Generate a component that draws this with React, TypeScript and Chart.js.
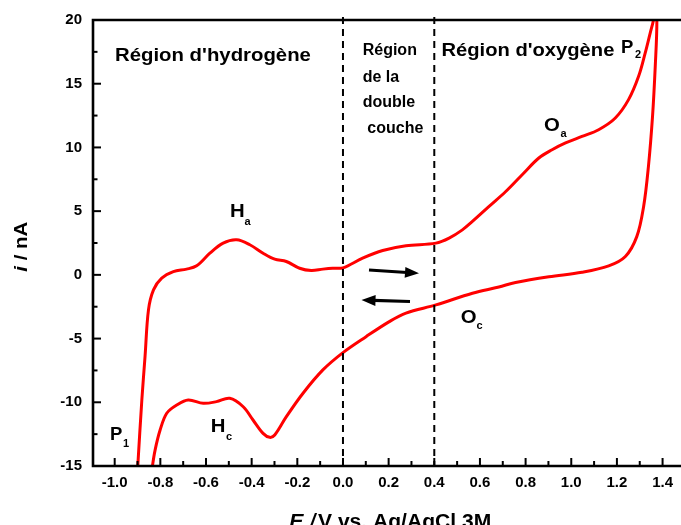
import React, { useEffect, useRef } from 'react';
import { Chart, registerables } from 'chart.js';

Chart.register(...registerables);

// Anodic sweep (from P1 upward, towards P2)
const anodicE = [
  -0.902, -0.899, -0.881, -0.867, -0.852, -0.830, -0.794, -0.743, -0.685, -0.641,
  -0.583, -0.525, -0.466, -0.408, -0.350, -0.299, -0.248, -0.190, -0.139, -0.088,
  -0.045, 0.0, 0.086, 0.174, 0.276, 0.407, 0.465, 0.523, 0.567, 0.640,
  0.713, 0.785, 0.858, 0.916, 0.975, 1.047, 1.120, 1.193, 1.251, 1.295,
  1.324, 1.346, 1.360, 1.368,
];
const anodicI = [
  -16.0, -15.05, -9.8, -6.4, -2.75, -1.18, -0.26, 0.26, 0.45, 0.71,
  1.7, 2.49, 2.75, 2.36, 1.7, 1.23, 1.05, 0.52, 0.34, 0.45,
  0.52, 0.55, 1.31, 1.91, 2.28, 2.49, 2.88, 3.53, 4.19, 5.37,
  6.54, 7.86, 9.17, 9.82, 10.35, 10.86, 11.39, 12.31, 13.75, 15.58,
  17.42, 18.99, 19.98, 21.0,
];
// Cathodic sweep (from P2 back down towards P1)
const cathodicE = [
  1.375, 1.368, 1.356, 1.338, 1.317, 1.287, 1.237, 1.164, 1.047, 0.902,
  0.756, 0.683, 0.567, 0.407, 0.276, 0.203, 0.101, 0.0, -0.088, -0.175,
  -0.248, -0.299, -0.321, -0.350, -0.394, -0.437, -0.496, -0.554, -0.612, -0.678,
  -0.728, -0.772, -0.801, -0.823, -0.835, -0.840,
];
const cathodicI = [
  19.9, 16.4, 12.43, 8.5, 5.37, 3.0, 1.44, 0.7, 0.2, -0.15,
  -0.6, -0.95, -1.44, -2.36, -3.0, -3.67, -4.85, -6.1, -7.46, -9.29,
  -11.13, -12.57, -12.75, -12.44, -11.39, -10.35, -9.69, -9.95, -10.08, -9.82,
  -10.21, -10.86, -12.18, -13.75, -15.06, -16.0,
];

const xTickValues = [-1.0, -0.8, -0.6, -0.4, -0.2, 0.0, 0.2, 0.4, 0.6, 0.8, 1.0, 1.2, 1.4];
const yTickValues = [-15, -10, -5, 0, 5, 10, 15, 20];
const dividerE = [0.0, 0.4];

const FONT = "'Liberation Sans', Arial, Helvetica, sans-serif";

function drawText(ctx: any, s: string, x: number, y: number, size: number, sx = 1, italic = false) {
  ctx.save();
  ctx.font = `${italic ? 'italic ' : ''}bold ${size}px ${FONT}`;
  ctx.textAlign = 'left';
  ctx.textBaseline = 'alphabetic';
  ctx.fillStyle = '#000';
  ctx.translate(x, y);
  ctx.scale(sx, 1);
  ctx.fillText(s, 0, 0);
  const w = ctx.measureText(s).width * sx;
  ctx.restore();
  return w;
}

function drawArrow(ctx: any, x0: number, y0: number, x1: number, y1: number) {
  const ang = Math.atan2(y1 - y0, x1 - x0);
  const hl = 14;
  const hw = 5.5;
  const bx = x1 - hl * Math.cos(ang);
  const by = y1 - hl * Math.sin(ang);
  ctx.save();
  ctx.strokeStyle = '#000';
  ctx.fillStyle = '#000';
  ctx.lineWidth = 3.2;
  ctx.beginPath();
  ctx.moveTo(x0, y0);
  ctx.lineTo(bx + 2 * Math.cos(ang), by + 2 * Math.sin(ang));
  ctx.stroke();
  ctx.beginPath();
  ctx.moveTo(x1, y1);
  ctx.lineTo(bx + hw * Math.sin(ang), by - hw * Math.cos(ang));
  ctx.lineTo(bx - hw * Math.sin(ang), by + hw * Math.cos(ang));
  ctx.closePath();
  ctx.fill();
  ctx.restore();
}

const decor = {
  id: 'decor',
  afterDatasetsDraw(chart: any) {
    const { ctx, chartArea: a, scales } = chart;
    const xs = scales.x;
    const ys = scales.y;
    ctx.save();
    ctx.strokeStyle = '#000';

    // dashed region dividers
    ctx.lineWidth = 2;
    ctx.setLineDash([7, 5]);
    dividerE.forEach((v) => {
      const px = xs.getPixelForValue(v);
      ctx.beginPath();
      ctx.moveTo(px, a.top - 3);
      ctx.lineTo(px, a.bottom);
      ctx.stroke();
    });
    ctx.setLineDash([]);

    // axis frame (left, top, bottom)
    ctx.lineWidth = 2.6;
    ctx.lineCap = 'square';
    ctx.beginPath();
    ctx.moveTo(a.right + 3, a.top);
    ctx.lineTo(a.left, a.top);
    ctx.lineTo(a.left, a.bottom);
    ctx.lineTo(a.right + 3, a.bottom);
    ctx.stroke();

    // ticks (inward)
    ctx.lineCap = 'butt';
    ctx.lineWidth = 2;
    yTickValues.forEach((v, i) => {
      const py = ys.getPixelForValue(v);
      ctx.beginPath();
      ctx.moveTo(a.left, py);
      ctx.lineTo(a.left + 8, py);
      ctx.stroke();
      if (i < yTickValues.length - 1) {
        const pm = ys.getPixelForValue((v + yTickValues[i + 1]) / 2);
        ctx.beginPath();
        ctx.moveTo(a.left, pm);
        ctx.lineTo(a.left + 4.5, pm);
        ctx.stroke();
      }
    });
    xTickValues.forEach((v, i) => {
      const px = xs.getPixelForValue(v);
      ctx.beginPath();
      ctx.moveTo(px, a.bottom);
      ctx.lineTo(px, a.bottom - 8);
      ctx.stroke();
      if (i < xTickValues.length - 1) {
        const pm = xs.getPixelForValue((v + xTickValues[i + 1]) / 2);
        ctx.beginPath();
        ctx.moveTo(pm, a.bottom);
        ctx.lineTo(pm, a.bottom - 5);
        ctx.stroke();
      }
    });

    // region labels
    drawText(ctx, "Région d'hydrogène", 115, 61, 18.5, 1.1);
    drawText(ctx, "Région d'oxygène", 441.5, 56, 18.5, 1.09);
    drawText(ctx, 'Région', 362.7, 55.3, 16);
    drawText(ctx, 'de la', 362.7, 81.7, 16);
    drawText(ctx, 'double', 362.7, 107.3, 16);
    drawText(ctx, 'couche', 367.3, 133.3, 16);

    // peak labels with subscripts
    drawText(ctx, 'P', 621, 52.7, 18.5);
    drawText(ctx, '2', 635, 57.8, 11);
    drawText(ctx, 'H', 230, 216.7, 18.5, 1.1);
    drawText(ctx, 'a', 244.5, 225, 11);
    drawText(ctx, 'O', 544, 130.7, 18.5, 1.1);
    drawText(ctx, 'a', 560.5, 137.3, 11);
    drawText(ctx, 'O', 460.7, 322.7, 18.5, 1.1);
    drawText(ctx, 'c', 476.5, 329.3, 11);
    drawText(ctx, 'H', 210.7, 432.3, 18.5, 1.1);
    drawText(ctx, 'c', 226, 440, 11);
    drawText(ctx, 'P', 110, 440, 18.5);
    drawText(ctx, '1', 123, 447.3, 11);

    // sweep direction arrows
    drawArrow(ctx, 369, 270, 419, 273.3);
    drawArrow(ctx, 410, 301.5, 361.5, 300);

    // x axis title
    drawText(ctx, 'E', 289.3, 528, 19.5, 1.09, true);
    drawText(ctx, '/', 310, 528, 19.5, 1.0, true);
    drawText(ctx, 'V vs. Ag/AgCl 3M', 318, 528, 19.5, 1.08);

    // y axis title (rotated)
    ctx.save();
    ctx.translate(26.5, 271.7);
    ctx.rotate(-Math.PI / 2);
    const wi = drawText(ctx, 'i', 0, 0, 19, 1.075, true);
    drawText(ctx, ' / nA', wi, 0, 19, 1.075);
    ctx.restore();

    ctx.restore();
  },
};

export default function App() {
  const ref = useRef<HTMLCanvasElement | null>(null);

  useEffect(() => {
    if (!ref.current) return;
    const loop = [
      ...anodicE.map((e, i) => ({ x: e, y: anodicI[i] })),
      ...cathodicE.map((e, i) => ({ x: e, y: cathodicI[i] })),
    ];
    const chart = new Chart(ref.current, {
      type: 'scatter',
      data: {
        datasets: [
          {
            data: loop,
            showLine: true,
            borderColor: '#ff0000',
            backgroundColor: '#ff0000',
            borderWidth: 3,
            pointRadius: 0,
            tension: 0.35,
            fill: false,
          },
        ],
      },
      options: {
        animation: false,
        responsive: false,
        events: [],
        layout: { padding: { left: 0, right: 0, top: 20, bottom: 0 } },
        plugins: { legend: { display: false }, tooltip: { enabled: false }, title: { display: false } },
        scales: {
          x: {
            type: 'linear',
            min: -1.095,
            max: 1.473,
            grid: { display: false, drawTicks: false, tickLength: 0 },
            border: { display: false },
            afterBuildTicks: (s: any) => {
              s.ticks = xTickValues.map((v) => ({ value: v }));
            },
            afterFit: (s: any) => {
              s.height = 59;
            },
            ticks: {
              autoSkip: false,
              maxRotation: 0,
              padding: 8,
              color: '#000',
              font: { family: FONT, size: 15, weight: 'bold' },
              callback: (v: any) => Number(v).toFixed(1),
            },
          },
          y: {
            type: 'linear',
            min: -15,
            max: 20,
            grid: { display: false, drawTicks: false, tickLength: 0 },
            border: { display: false },
            afterBuildTicks: (s: any) => {
              s.ticks = yTickValues.map((v) => ({ value: v }));
            },
            afterFit: (s: any) => {
              s.width = 93;
            },
            ticks: {
              autoSkip: false,
              padding: 11,
              color: '#000',
              font: { family: FONT, size: 15, weight: 'bold' },
              callback: (v: any) => String(v),
            },
          },
        },
      },
      plugins: [decor],
    } as any);
    return () => chart.destroy();
  }, []);

  return (
    <div style={{ position: 'absolute', left: 0, top: 0, width: 681, height: 525, background: '#fff' }}>
      <canvas ref={ref} width={681} height={525} style={{ display: 'block' }} />
    </div>
  );
}
